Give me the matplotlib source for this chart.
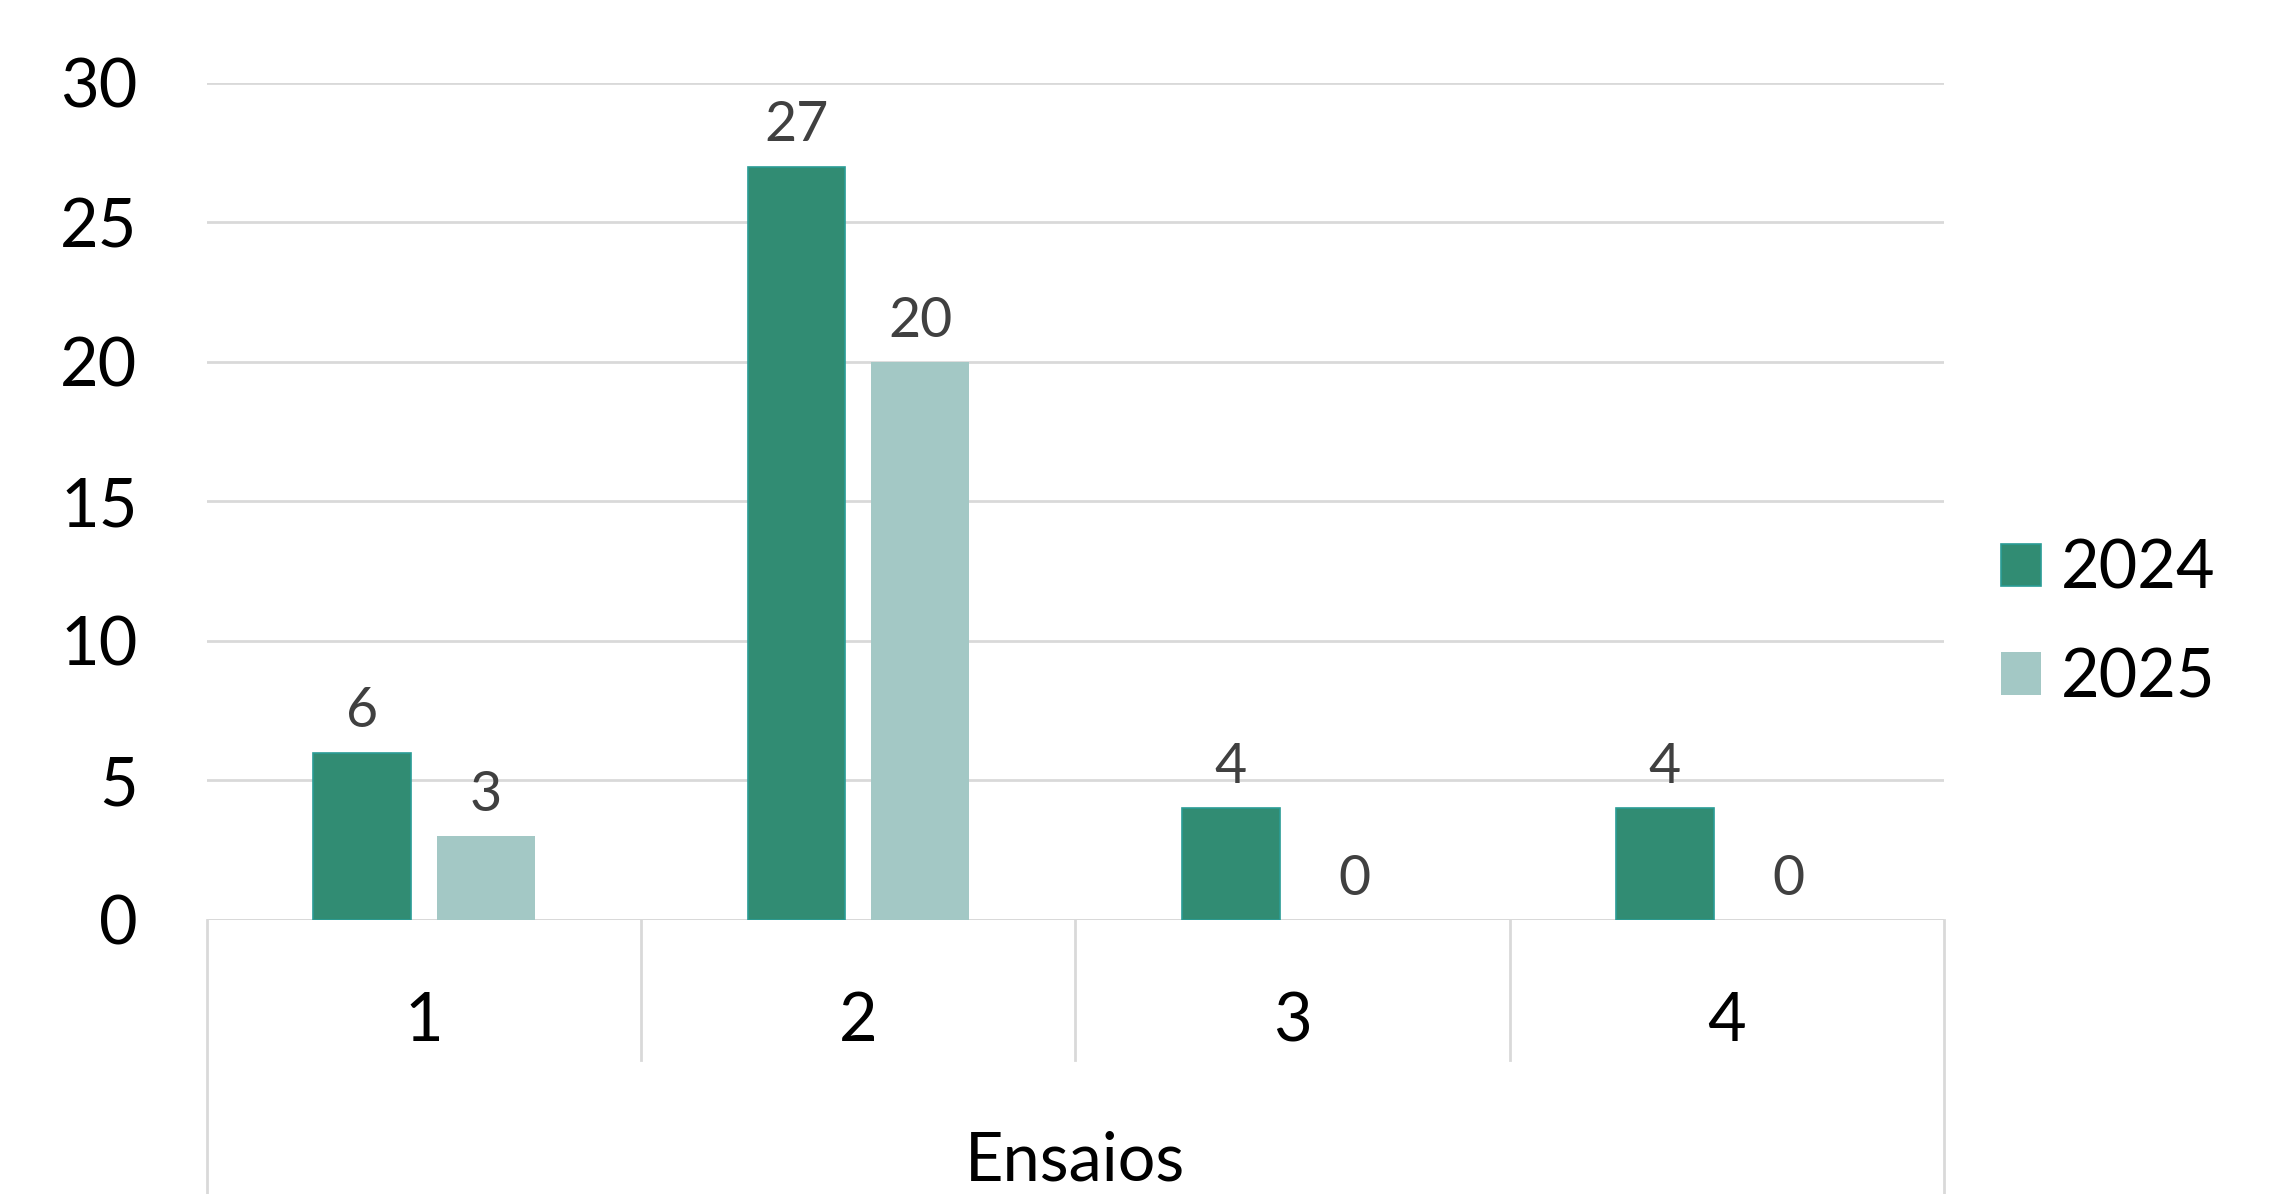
import numpy as np
import matplotlib.pyplot as plt

categories = ['1', '2', '3', '4']
group_label = 'Ensaios'
series_names = ['2024', '2025']
vals_2024 = [6, 27, 4, 4]
vals_2025 = [3, 20, 0, 0]
colors = ['#318C73', '#A3C8C5']

plt.rcParams['font.family'] = ['Lato', 'DejaVu Sans']

fig = plt.figure(figsize=(22.85, 11.94), dpi=100)
ax = fig.add_axes([0.0906, 0.2295, 0.7601, 0.7010])

x = np.arange(len(categories))
w = 0.225
off = 0.1425
b1 = ax.bar(x - off, vals_2024, w, color=colors[0], edgecolor='#2A9C95', linewidth=1.2, label=series_names[0], zorder=3)
b2 = ax.bar(x + off, vals_2025, w, color=colors[1], label=series_names[1], zorder=3)

for bars in (b1, b2):
    ax.bar_label(bars, padding=11, fontsize=40, color='#404040')

ax.set_xlim(-0.5, len(categories) - 0.5)
ax.set_ylim(0, 30)
ax.set_yticks(range(0, 31, 5))
ax.tick_params(axis='y', length=0, labelsize=48, pad=50)
ax.set_xticks([])
ax.grid(axis='y', color='#D9D9D9', linewidth=2, zorder=0)
for s in ax.spines.values():
    s.set_visible(False)
ax.axhline(0, color='#D9D9D9', linewidth=2, zorder=2)

# multi-level category axis
tr = ax.get_xaxis_transform()
for b in np.arange(0.5, len(categories) - 0.5, 1):
    ax.plot([b, b], [0, -0.167], color='#D9D9D9', lw=2, transform=tr, clip_on=False)
for b in (-0.5, len(categories) - 0.5):
    ax.plot([b, b], [0, -0.33], color='#D9D9D9', lw=2, transform=tr, clip_on=False)
for xi, c in zip(x, categories):
    ax.text(xi, -0.122, c, transform=tr, ha='center', va='center', fontsize=48)
ax.text((len(categories) - 1) / 2, -0.288, group_label, transform=tr, ha='center', va='center', fontsize=48)

leg = ax.legend(loc='center left', bbox_to_anchor=(1.033, 0.354), frameon=False, fontsize=48,
                borderaxespad=0, borderpad=0,
                handlelength=0.6, handleheight=0.6, handletextpad=0.3, labelspacing=0.7)

fig.savefig('out.png', dpi=100, facecolor='white')
